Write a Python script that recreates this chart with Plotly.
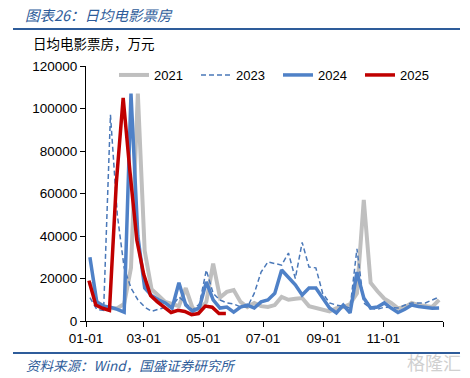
import pandas as pd
import plotly.graph_objects as go

# ---------------- data (weekly, 万元) ----------------
start_2021 = "2001-01-05"
start_2023 = "2001-01-05"
start_2024 = "2001-01-05"
start_2025 = "2001-01-04"

v2021 = [18000, 9000, 7000, 6000, 6000, 8000, 25000, 107000, 33000, 15000,
         12000, 9000, 8000, 7000, 15500, 6000, 5000, 9000, 27000, 11000,
         13700, 14600, 9000, 6600, 8500, 7000, 6600, 7500, 11300, 10000,
         10500, 10800, 7000, 6100, 5000, 4500, 6000, 6500, 8000, 13000,
         57000, 18000, 14000, 10500, 8500, 6000, 6500, 8500, 7500, 7000,
         6600, 9900]
v2023 = [11000, 5500, 5000, 97000, 50000, 25000, 15500, 10000, 6600, 4500,
         5500, 6500, 7000, 11300, 8500, 5200, 8000, 24000, 13000, 9900,
         8500, 8000, 6600, 6600, 13000, 23000, 27800, 27000, 26300, 32000,
         20000, 37000, 25400, 25000, 13000, 8500, 7500, 7000, 6100, 34000,
         8500, 6000, 5500, 6500, 6300, 6100, 7500, 8500, 8500, 8500,
         9900, 11300]
v2024 = [30000, 9000, 7000, 6500, 5500, 4200, 107000, 40000, 15500, 12000,
         10000, 8500, 6000, 18000, 7500, 4500, 6300, 18400, 9900, 6100,
         6600, 4200, 6600, 7500, 6100, 9000, 9900, 13000, 24000, 20700,
         17000, 12200, 15500, 15500, 10800, 6100, 3800, 7500, 3800, 23000,
         10800, 6100, 6600, 8500, 6100, 4000, 5500, 7500, 6800, 6300,
         6000, 6100]
v2025 = [19000, 7500, 6000, 5000, 65000, 105000, 70000, 38000, 22000, 12000,
         9000, 6500, 4000, 5000, 4500, 3000, 3500, 7000, 6500, 3500, 3500]

tick_vals = ["2001-01-01", "2001-03-01", "2001-05-01", "2001-07-01",
             "2001-09-01", "2001-11-01", "2002-01-01"]
tick_text = ["01-01", "03-01", "05-01", "07-01", "09-01", "11-01", ""]
y_ticks = [0, 20000, 40000, 60000, 80000, 100000, 120000]

# ---------------- figure ----------------
def weeks(start, vals):
    return pd.date_range(start, periods=len(vals), freq="7D")

fig = go.Figure()
fig.add_trace(go.Scatter(x=weeks(start_2021, v2021), y=v2021, name="2021", mode="lines",
                         line=dict(color="#BFBFBF", width=4)))
fig.add_trace(go.Scatter(x=weeks(start_2023, v2023), y=v2023, name="2023", mode="lines",
                         line=dict(color="#4A78B8", width=1.5, dash="5px,3px")))
fig.add_trace(go.Scatter(x=weeks(start_2024, v2024), y=v2024, name="2024", mode="lines",
                         line=dict(color="#4F81C7", width=3.5)))
fig.add_trace(go.Scatter(x=weeks(start_2025, v2025), y=v2025, name="2025", mode="lines",
                         line=dict(color="#C00000", width=3.5)))

axis_font = dict(family="Liberation Sans, Arial, sans-serif", size=13.5, color="#000000")
fig.update_xaxes(range=["2001-01-01", "2002-01-01"], tickvals=tick_vals, ticktext=tick_text,
                 showline=True, linecolor="#000000", linewidth=1, ticks="outside",
                 ticklen=5, tickcolor="#000000", showgrid=False, zeroline=False,
                 tickfont=axis_font)
fig.update_yaxes(range=[0, 120000], tickvals=y_ticks, showline=True, linecolor="#000000",
                 linewidth=1, ticks="outside", ticklen=5, tickcolor="#000000",
                 showgrid=False, zeroline=False, tickfont=axis_font, tickformat="d")

cjk = "Noto Sans CJK SC, sans-serif"
W = 357.0
H = 255.0
fig.update_layout(
    width=470, height=378,
    margin=dict(l=86, r=27, t=66, b=57),
    paper_bgcolor="white", plot_bgcolor="white",
    showlegend=True,
    legend=dict(orientation="h", x=(114 - 86) / W, xanchor="left", y=(321 - 75) / H,
                yanchor="middle",
                font=dict(family="Liberation Sans, Arial, sans-serif", size=13, color="#000000"),
                bgcolor="rgba(0,0,0,0)", entrywidth=37, entrywidthmode="pixels",
                itemwidth=30, tracegroupgap=0),
    shapes=[
        dict(type="line", xref="paper", yref="paper",
             x0=-73 / W, x1=374 / W, y0=(321 - 29) / H, y1=(321 - 29) / H,
             line=dict(color="#2E5C9A", width=2)),
        dict(type="line", xref="paper", yref="paper",
             x0=-73 / W, x1=374 / W, y0=(321 - 353) / H, y1=(321 - 353) / H,
             line=dict(color="#2E5C9A", width=2)),
    ],
    annotations=[
        dict(text="<i>图表26：日均电影票房</i>", xref="paper", yref="paper",
             x=-63 / W, y=(321 - 14) / H, xanchor="left", yanchor="middle", showarrow=False,
             font=dict(family=cjk, size=14.5, color="#2E5C9A")),
        dict(text="日均电影票房，万元", xref="paper", yref="paper",
             x=-55 / W, y=(321 - 43) / H, xanchor="left", yanchor="middle", showarrow=False,
             font=dict(family=cjk, size=13.5, color="#000000")),
        dict(text="<i>资料来源：Wind，国盛证券研究所</i>", xref="paper", yref="paper",
             x=-62 / W, y=(321 - 365) / H, xanchor="left", yanchor="middle", showarrow=False,
             font=dict(family=cjk, size=13.5, color="#2E5C9A")),
        dict(text="格隆汇", xref="paper", yref="paper",
             x=377 / W, y=(321 - 362) / H, xanchor="right", yanchor="middle", showarrow=False,
             font=dict(family=cjk, size=18, color="#D0D0D0")),
    ],
)

fig.write_html("out.html", config={"displayModeBar": False},
               post_script="document.body.style.margin='0';")
